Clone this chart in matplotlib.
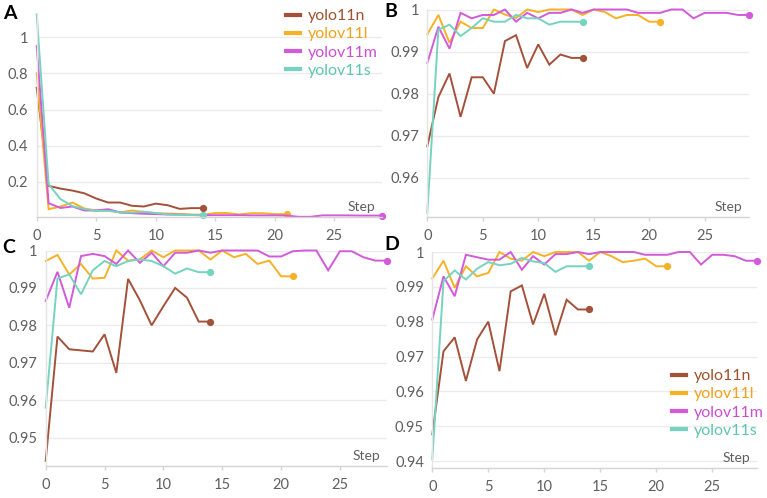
import matplotlib
matplotlib.use("Agg")
import matplotlib.pyplot as plt
from matplotlib.lines import Line2D
from matplotlib.ticker import FuncFormatter, FixedLocator

plt.rcParams['font.family'] = ['Lato', 'DejaVu Sans']

series_names = ["yolo11n", "yolov11l", "yolov11m", "yolov11s"]
line_colors = ["#a4513a", "#f7b126", "#d35ad9", "#76d3c0"]
text_colors = ["#a0522d", "#efa21a", "#c94fd0", "#5fc6ad"]

# Panel A (loss-like)
A_n = [0.72, 0.178, 0.163, 0.152, 0.137, 0.108, 0.086, 0.086, 0.068, 0.064, 0.080, 0.071, 0.051, 0.055, 0.055]
A_l = [0.80, 0.049, 0.064, 0.086, 0.053, 0.042, 0.042, 0.031, 0.042, 0.034, 0.027, 0.025, 0.023, 0.020, 0.018,
       0.028, 0.028, 0.020, 0.027, 0.027, 0.022, 0.022]
A_m = [0.95, 0.082, 0.056, 0.064, 0.042, 0.042, 0.049, 0.031, 0.027, 0.024, 0.022, 0.020, 0.019, 0.017, 0.016,
       0.016, 0.016, 0.016, 0.015, 0.015, 0.015, 0.014, 0.007, 0.007, 0.015, 0.015, 0.015, 0.014, 0.014, 0.014]
A_s = [1.125, 0.187, 0.105, 0.066, 0.050, 0.040, 0.040, 0.032, 0.030, 0.035, 0.028, 0.020, 0.018, 0.017, 0.015]

# Panel B
B_n = [0.9675, 0.9792, 0.9848, 0.9745, 0.9839, 0.9839, 0.9800, 0.9925, 0.9939, 0.9861, 0.9917, 0.9869, 0.9893,
       0.9885, 0.9885]
B_l = [0.9941, 0.9987, 0.9921, 0.9971, 0.9956, 0.9956, 1.0, 0.9988, 0.9980, 1.0, 0.9994, 1.0, 1.0, 1.0, 0.9987,
       1.0, 0.9994, 0.9979, 0.9987, 0.9987, 0.9971, 0.9971]
B_m = [0.9873, 0.9959, 0.9907, 0.9992, 0.9979, 0.9987, 0.9987, 1.0, 0.9971, 0.9992, 0.9979, 0.9992, 0.9992, 1.0,
       0.9992, 1.0, 1.0, 1.0, 1.0, 0.9992, 0.9992, 0.9992, 1.0, 1.0, 0.9979, 0.9992, 0.9992, 0.9992, 0.9987, 0.9987]
B_s = [0.9517, 0.9952, 0.9964, 0.9937, 0.9956, 0.9979, 0.9971, 0.9971, 0.9987, 0.9979, 0.9979, 0.9964, 0.9971,
       0.9971, 0.9971]

# Panel C
C_n = [0.9438, 0.9770, 0.9736, 0.9733, 0.9730, 0.9776, 0.9673, 0.9924, 0.9867, 0.9800, 0.9851, 0.9900, 0.9874,
       0.9810, 0.9810]
C_l = [0.9972, 0.9988, 0.9936, 0.9964, 0.9925, 0.9927, 1.0, 0.9973, 0.9976, 1.0, 0.9982, 1.0, 1.0, 1.0, 0.9976,
       1.0, 0.9982, 0.9991, 0.9964, 0.9973, 0.9931, 0.9931]
C_m = [0.9865, 0.9943, 0.9847, 0.9985, 0.9991, 0.9985, 0.9964, 1.0, 0.9967, 0.9994, 0.9958, 0.9994, 0.9994, 1.0,
       0.9994, 1.0, 1.0, 1.0, 1.0, 0.9984, 0.9984, 0.9998, 1.0, 1.0, 0.9947, 0.9998, 0.9998, 0.9982, 0.9973, 0.9973]
C_s = [0.9580, 0.9925, 0.9936, 0.9883, 0.9947, 0.9972, 0.9958, 0.9972, 0.9976, 0.9972, 0.9958, 0.9938, 0.9952,
       0.9942, 0.9942]

# Panel D
D_n = [0.9477, 0.9715, 0.9755, 0.9630, 0.9749, 0.9800, 0.9658, 0.9887, 0.9904, 0.9792, 0.9880, 0.9761, 0.9863,
       0.9835, 0.9835]
D_l = [0.9924, 0.9975, 0.9897, 0.9959, 0.9930, 0.9940, 1.0, 0.9981, 0.9975, 1.0, 0.9988, 1.0, 1.0, 1.0, 0.9975,
       1.0, 0.9988, 0.9971, 0.9975, 0.9981, 0.9959, 0.9959]
D_m = [0.9806, 0.9930, 0.9873, 0.9992, 0.9985, 0.9978, 0.9978, 1.0, 0.9949, 0.9988, 0.9964, 0.9994, 0.9994, 1.0,
       0.9994, 1.0, 1.0, 1.0, 1.0, 0.9992, 0.9992, 0.9992, 1.0, 1.0, 0.9964, 0.9992, 0.9992, 0.9988, 0.9975, 0.9975]
D_s = [0.9405, 0.9916, 0.9947, 0.9921, 0.9952, 0.9971, 0.9962, 0.9966, 0.9983, 0.9973, 0.9968, 0.9943, 0.9959,
       0.9959, 0.9959]

x_ticks = [0, 5, 10, 15, 20, 25]
A_yticks = [0.2, 0.4, 0.6, 0.8, 1.0]
B_yticks = [0.96, 0.97, 0.98, 0.99, 1.0]
C_yticks = [0.95, 0.96, 0.97, 0.98, 0.99, 1.0]
D_yticks = [0.94, 0.95, 0.96, 0.97, 0.98, 0.99, 1.0]

W, H = 767, 498
fig = plt.figure(figsize=(W / 100, H / 100), dpi=100)


def px_rect(left, right, top, bottom):
    return [left / W, (H - bottom) / H, (right - left) / W, (bottom - top) / H]


panels = [
    ("A", px_rect(36.7, 382, 14.5, 217), [A_n, A_l, A_m, A_s], A_yticks, (0.006, 1.125), (3, 5)),
    ("B", px_rect(427.3, 749, 9.5, 217), [B_n, B_l, B_m, B_s], B_yticks, (0.9507, 1.0), (384, 3)),
    ("C", px_rect(45.7, 387, 250.5, 466), [C_n, C_l, C_m, C_s], C_yticks, (0.9424, 1.0), (2, 239)),
    ("D", px_rect(432.3, 757, 252, 468), [D_n, D_l, D_m, D_s], D_yticks, (0.938, 1.0), (384, 236)),
]

axes = {}
for label, rect, data, yt, ylim, lab_pos in panels:
    ax = fig.add_axes(rect)
    axes[label] = ax
    for vals, c in zip(data, line_colors):
        xs = list(range(len(vals)))
        ax.plot(xs, vals, color=c, lw=1.4, solid_joinstyle='miter', clip_on=False)
        ax.plot(xs[-1], vals[-1], 'o', color=c, ms=4.2, clip_on=False)
    ax.set_xlim(0, 29)
    ax.set_ylim(*ylim)
    ax.xaxis.set_major_locator(FixedLocator(x_ticks))
    ax.yaxis.set_major_locator(FixedLocator(yt))
    ax.yaxis.set_major_formatter(FuncFormatter(lambda v, p: f"{v:g}"))
    for s in ["top", "right"]:
        ax.spines[s].set_visible(False)
    ax.spines["bottom"].set_color("#d4d4d4")
    ax.spines["left"].set_color("#e4e4e4")
    ax.spines["bottom"].set_linewidth(1.0)
    ax.spines["left"].set_linewidth(1.0)
    ax.grid(axis='y', color="#ebebeb", lw=1.0)
    ax.set_axisbelow(True)
    ax.tick_params(axis='x', colors="#d4d4d4", length=3, width=1.0, labelcolor="#5f5f5f",
                   labelsize=10.5, pad=5.5)
    ax.tick_params(axis='y', length=0, labelcolor="#5f5f5f", labelsize=10.5, pad=6)
    ax.annotate("Step", xy=(1, 0), xycoords='axes fraction', xytext=(-5, 3),
                textcoords='offset points', ha='right', va='bottom', fontsize=10,
                color="#5f5f5f")
    fig.text(lab_pos[0] / W, 1 - lab_pos[1] / H, label, fontsize=14, fontweight='bold',
             color='black', ha='left', va='top', family=['Lato', 'DejaVu Sans'])

handles = [Line2D([], [], color=c, lw=3) for c in line_colors]


def add_legend(ax, x_px, y_px):
    leg = ax.legend(handles, series_names, loc='upper left',
                    bbox_to_anchor=(x_px / W, 1 - y_px / H), bbox_transform=fig.transFigure,
                    frameon=False, handlelength=0.9, handletextpad=0.45, labelspacing=0.25,
                    fontsize=11.5, borderpad=0, borderaxespad=0)
    for t, c in zip(leg.get_texts(), text_colors):
        t.set_color(c)


add_legend(axes["A"], 286, 9)
add_legend(axes["D"], 672, 369)

fig.savefig("out.png", dpi=100)
